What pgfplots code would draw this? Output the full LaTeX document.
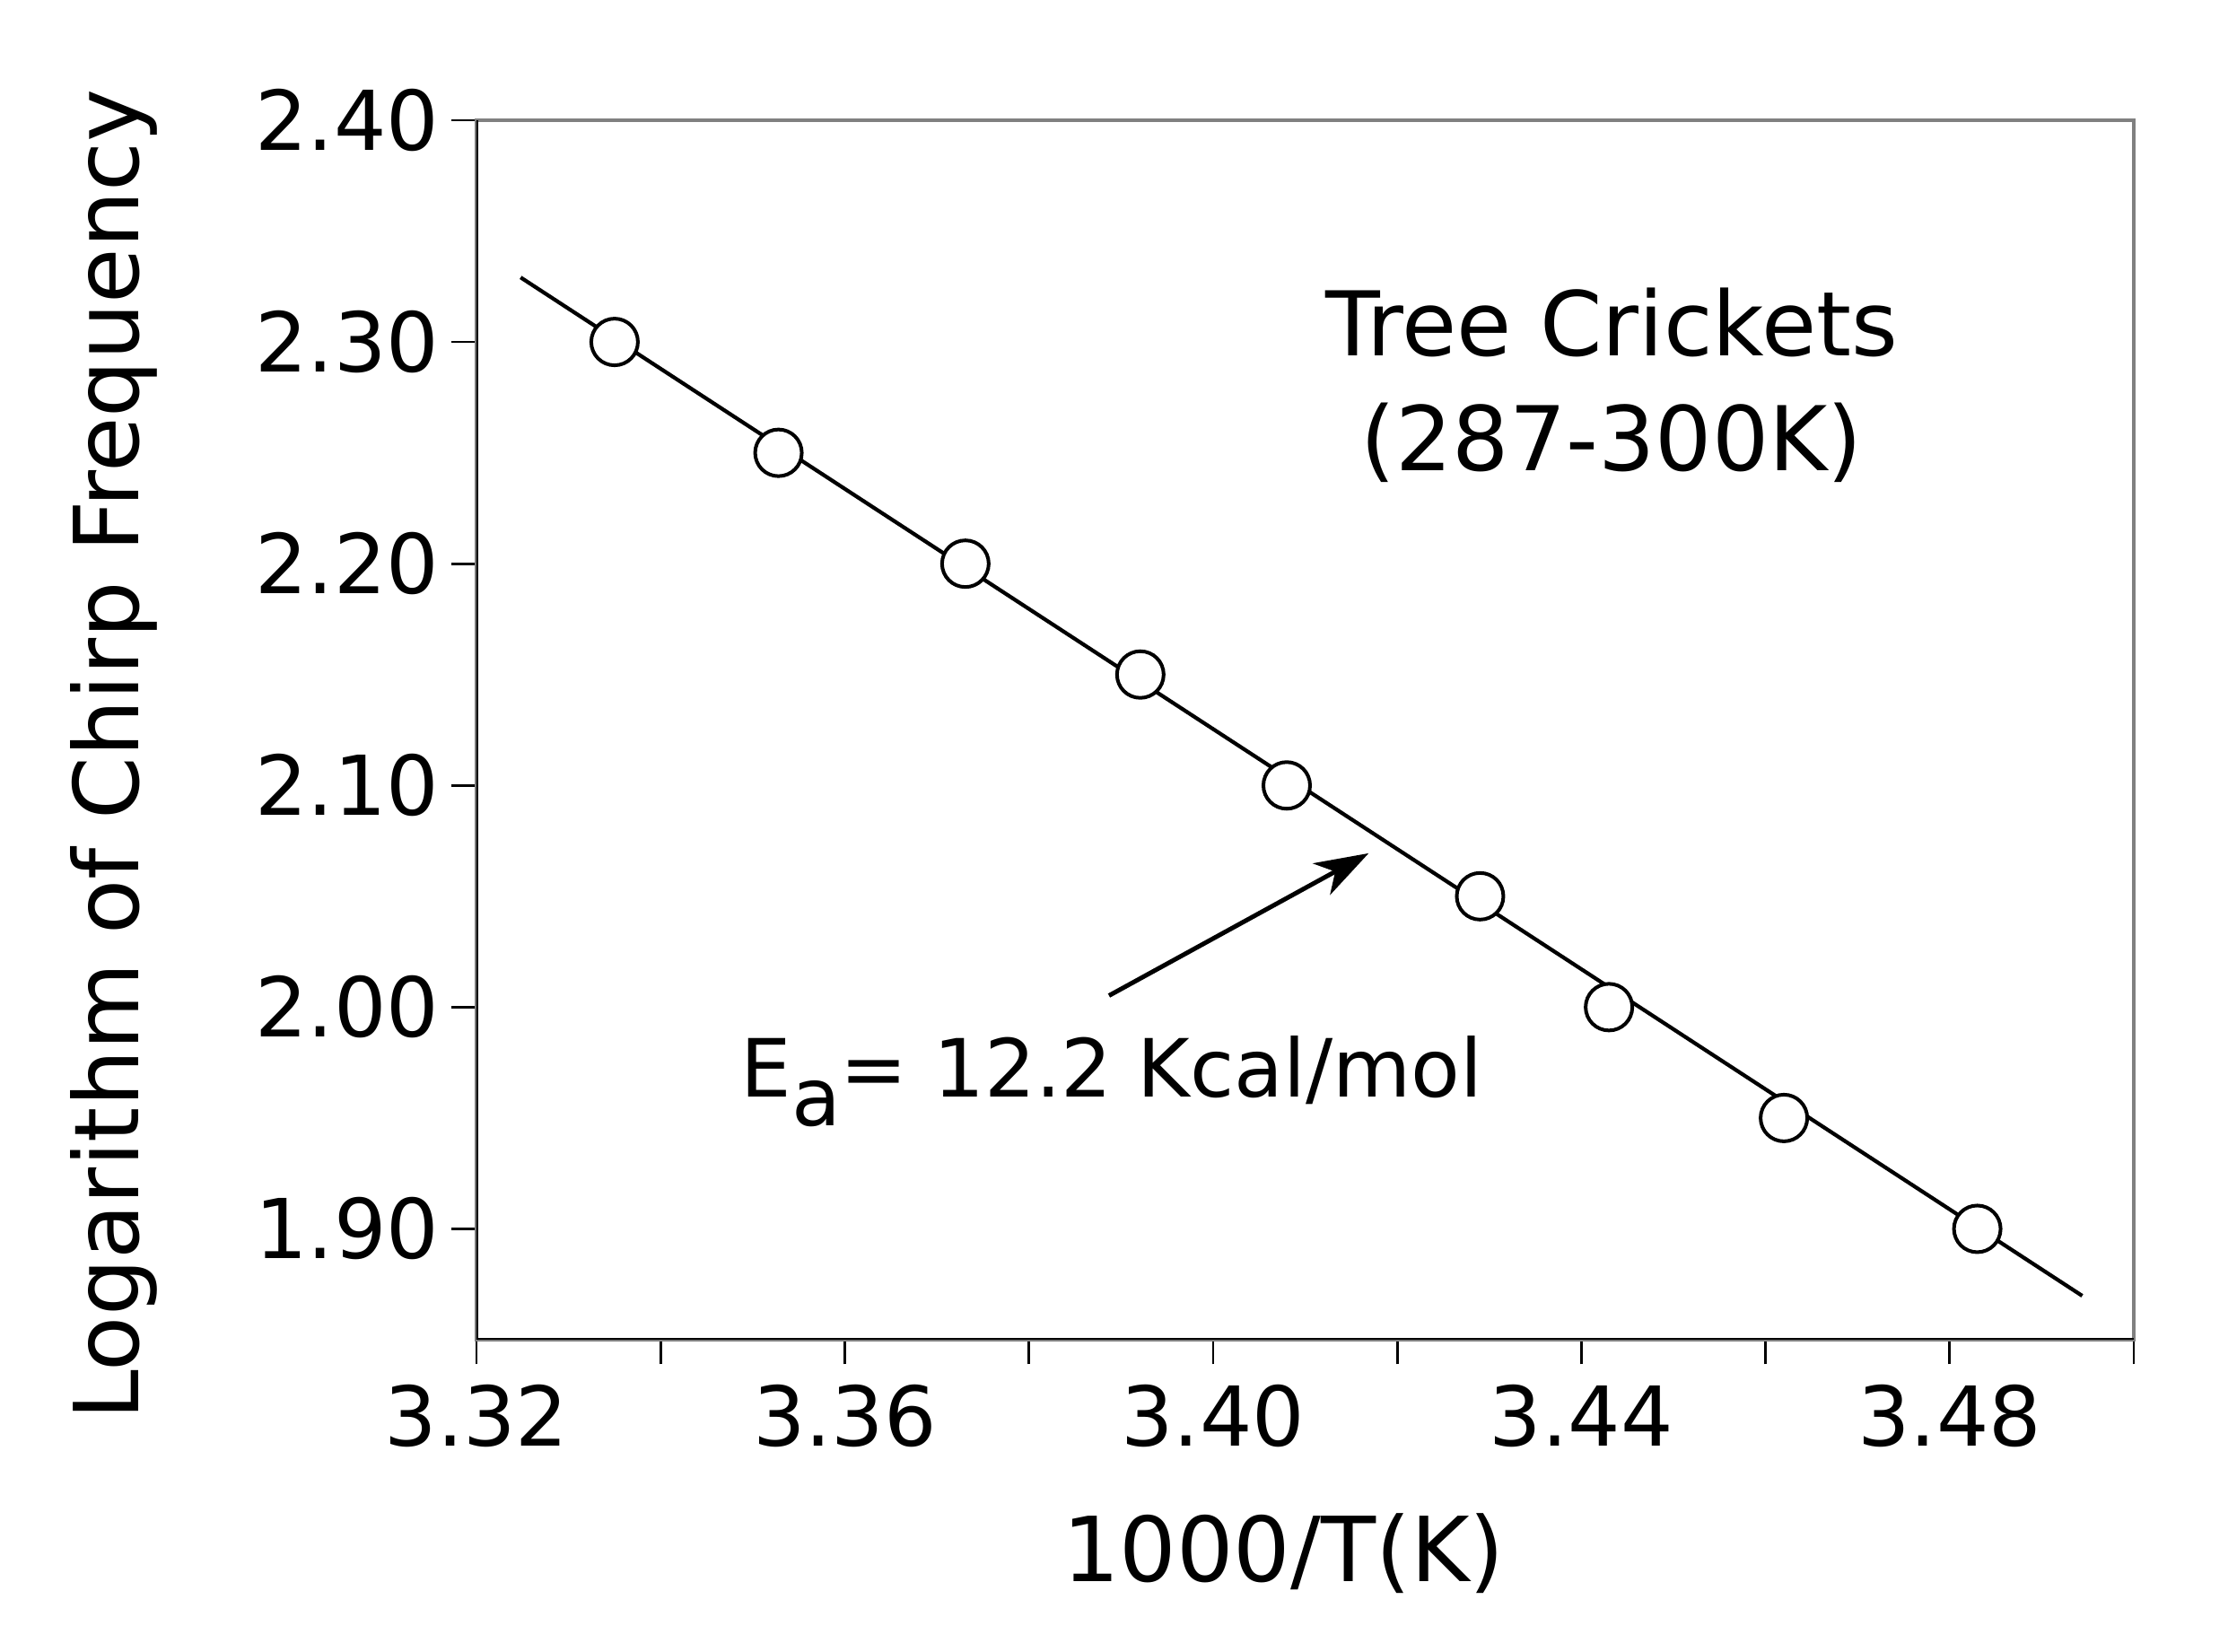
\documentclass[border=0pt]{standalone}
\usepackage{fontspec}
\setmainfont{DejaVu Sans}
\usepackage{pgfplots}
\pgfplotsset{compat=1.18}
\usetikzlibrary{arrows.meta}
\begin{document}
\begin{tikzpicture}
\useasboundingbox (-106.2pt,-69.6pt) rectangle (390.4pt,298.6pt);
\begin{axis}[
  scale only axis, width=369.4pt, height=271.8pt,
  xmin=3.32, xmax=3.50, ymin=1.85, ymax=2.40,
  xtick={3.32,3.36,3.40,3.44,3.48},
  minor xtick={3.34,3.38,3.42,3.46,3.50},
  ytick={1.90,2.00,2.10,2.20,2.30,2.40},
  xtick pos=bottom, ytick pos=left, tick align=outside,
  major tick length=5.5pt, minor tick length=5.5pt,
  every tick/.style={black, line width=0.55pt},
  axis line style={draw=gray, line width=0.8pt},
  /pgf/number format/fixed, /pgf/number format/fixed zerofill,
  /pgf/number format/precision=2, /pgf/number format/assume math mode=true,
  tick label style={font=\fontsize{18.4}{22}\selectfont},
  xticklabel style={yshift=-1pt},
  yticklabel style={xshift=0.7pt},
  every axis x label/.style={at={(axis description cs:0.487,0)}, yshift=-53.8pt, anchor=base},
  every axis y label/.style={at={(axis description cs:0,0.48)}, xshift=-75.2pt, rotate=90, anchor=base},
  label style={font=\fontsize{20}{24}\selectfont},
  xlabel={1000/T(K)}, ylabel={Logarithm of Chirp Frequency},
]
\draw[black, line width=0.7pt] (rel axis cs:0,1) -- (rel axis cs:0,0) -- (rel axis cs:1,0);
\addplot[black, line width=0.85pt] coordinates {(3.3248,2.3291) (3.4944,1.8698)};
\addplot[only marks, mark=*, mark size=5.2pt, mark options={fill=white, draw=black, line width=0.8pt}] coordinates {
(3.3350,2.30) (3.3528,2.25) (3.3731,2.20) (3.3921,2.15) (3.4080,2.10)
(3.4290,2.05) (3.4430,2.00) (3.4620,1.95) (3.4830,1.90)};
\draw[black, line width=1pt, -{Stealth[length=12pt, width=8pt, inset=3.5pt]}] (axis cs:3.3887,2.0052) -- (axis cs:3.4169,2.0694);
\node[anchor=base, inner sep=0, font=\fontsize{19.9}{24}\selectfont] at (axis cs:3.4433,2.2936) {Tree Crickets};
\node[anchor=base, inner sep=0, font=\fontsize{19.9}{24}\selectfont] at (axis cs:3.4433,2.2418) {(287-300K)};
\node[anchor=base west, inner sep=0, font=\fontsize{17.9}{22}\selectfont] at (axis cs:3.3486,1.9593) {E\raisebox{-0.35em}{a}= 12.2 Kcal/mol};
\end{axis}
\end{tikzpicture}
\end{document}
